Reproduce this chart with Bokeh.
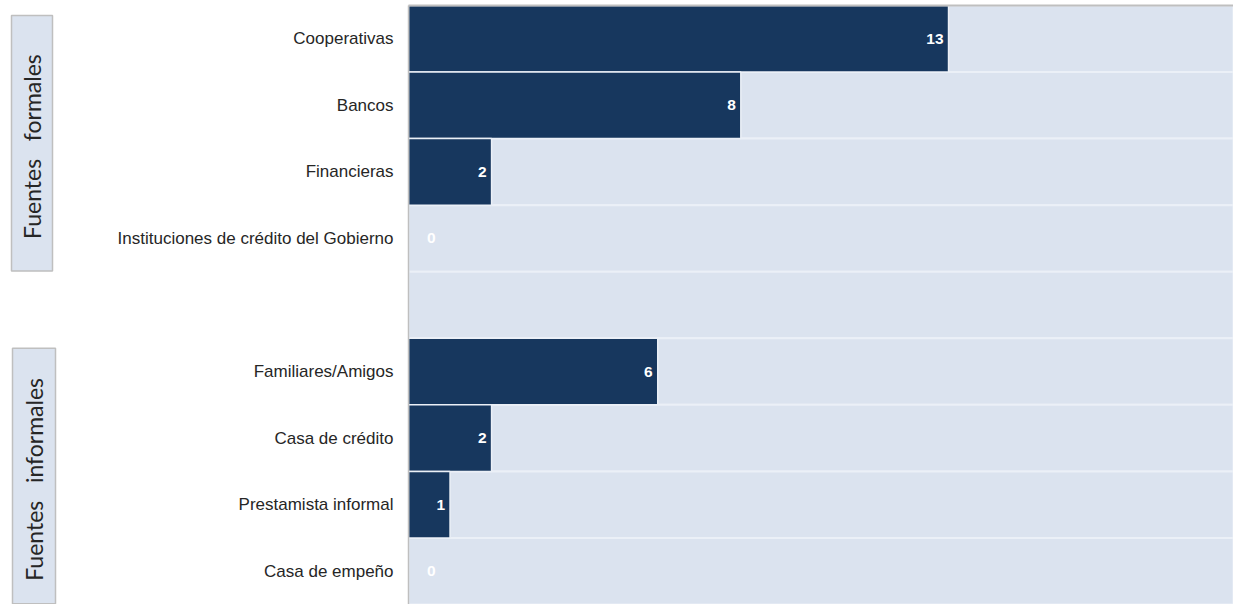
import math
from bokeh.plotting import figure
from bokeh.models import ColumnDataSource, FactorRange, Range1d, FixedTicker
from bokeh.layouts import row
from bokeh.core.properties import value
from bokeh.embed import file_html
from bokeh.resources import INLINE

# ---- data ----
formal_sources = ["Cooperativas", "Bancos", "Financieras",
                  "Instituciones de crédito del Gobierno"]
formal_counts = [13, 8, 2, 0]
informal_sources = ["Familiares/Amigos", "Casa de crédito",
                    "Prestamista informal", "Casa de empeño"]
informal_counts = [6, 2, 1, 0]
group_labels = ["Fuentes\u00a0\u00a0\u00a0formales", "Fuentes\u00a0\u00a0\u00a0informales"]
x_max = 19.86

GAP = " "
rows_top_down = formal_sources + [GAP] + informal_sources
n_rows = len(rows_top_down)

NAVY = "#17375E"
BG = "#DBE3EF"
SEP = "#EBF0F7"
AXIS = "#BFBFBF"
H = 604
LEFT_W = 62
MAIN_W = 1233 - LEFT_W


def blank_top_axis(ax, color):
    ax.ticker = FixedTicker(ticks=[])
    ax.major_tick_line_color = None
    ax.minor_tick_line_color = None
    ax.major_tick_out = 0
    ax.major_tick_in = 0
    ax.major_label_standoff = 0
    ax.axis_line_color = color
    ax.axis_line_width = 2


# ---- main figure ----
p = figure(width=MAIN_W, height=H,
           y_range=FactorRange(factors=list(reversed(rows_top_down))),
           x_range=Range1d(0, x_max),
           output_backend="svg", toolbar_location=None,
           x_axis_location="above",
           min_border_left=408 - LEFT_W, min_border_right=0,
           min_border_top=5, min_border_bottom=0)
p.outline_line_color = None
p.grid.visible = False

bg_src = ColumnDataSource(dict(y=rows_top_down, right=[x_max] * n_rows))
p.hbar(y="y", left=0, right="right", height=1, source=bg_src,
       fill_color=BG, line_color=SEP, line_width=2)

all_sources = formal_sources + informal_sources
all_counts = formal_counts + informal_counts
bar_src = ColumnDataSource(dict(
    y=[s for s, c in zip(all_sources, all_counts) if c > 0],
    v=[c for c in all_counts if c > 0]))
p.hbar(y="y", left=0, right="v", height=1, source=bar_src,
       fill_color=NAVY, line_color=SEP, line_width=1.5)

lab_src = ColumnDataSource(dict(
    y=all_sources, x=all_counts,
    t=[str(c) for c in all_counts],
    off=[-5 if c > 0 else 27 for c in all_counts]))
p.text(x="x", y="y", text="t", x_offset="off", source=lab_src,
       text_color="white", text_font=value("Liberation Sans"),
       text_font_style="bold", text_font_size="15.5px",
       text_align="right", text_baseline="middle")

ya = p.yaxis[0]
ya.major_label_text_font = "Liberation Sans"
ya.major_label_text_font_size = "17px"
ya.major_label_text_color = "#262626"
ya.major_tick_line_color = None
ya.minor_tick_line_color = None
ya.axis_line_color = AXIS
ya.axis_line_width = 1.5
ya.major_label_standoff = 9

blank_top_axis(p.xaxis[0], AXIS)

# ---- left figure with group boxes ----
lf = figure(width=LEFT_W, height=H,
            x_range=Range1d(0, LEFT_W), y_range=Range1d(0, n_rows),
            output_backend="svg", toolbar_location=None,
            x_axis_location="above", y_axis_location=None,
            min_border_left=0, min_border_right=0,
            min_border_top=5, min_border_bottom=0)
lf.outline_line_color = None
lf.grid.visible = False
blank_top_axis(lf.xaxis[0], None)

sizes = [len(formal_sources), len(informal_sources)]
starts = [0, len(formal_sources) + 1]
tops = [n_rows - s - 0.15 for s in starts]
bottoms = [n_rows - s - n + 0.01 for s, n in zip(starts, sizes)]
box_src = ColumnDataSource(dict(
    top=tops, bottom=bottoms, left=[11, 12], right=[52, 55],
    cx=[31.5, 33.5], cy=[(t + b) / 2 - 0.05 for t, b in zip(tops, bottoms)],
    label=group_labels))
lf.quad(top="top", bottom="bottom", left="left", right="right",
        source=box_src, fill_color=BG, line_color=AXIS, line_width=1.5)
lf.text(x="cx", y="cy", text="label", source=box_src, angle=math.pi / 2,
        text_font=value("Lato"), text_font_size="23px",
        text_color="#262626", text_align="center", text_baseline="middle")

layout = row(lf, p)
open("out.html", "w").write(file_html(layout, INLINE))
